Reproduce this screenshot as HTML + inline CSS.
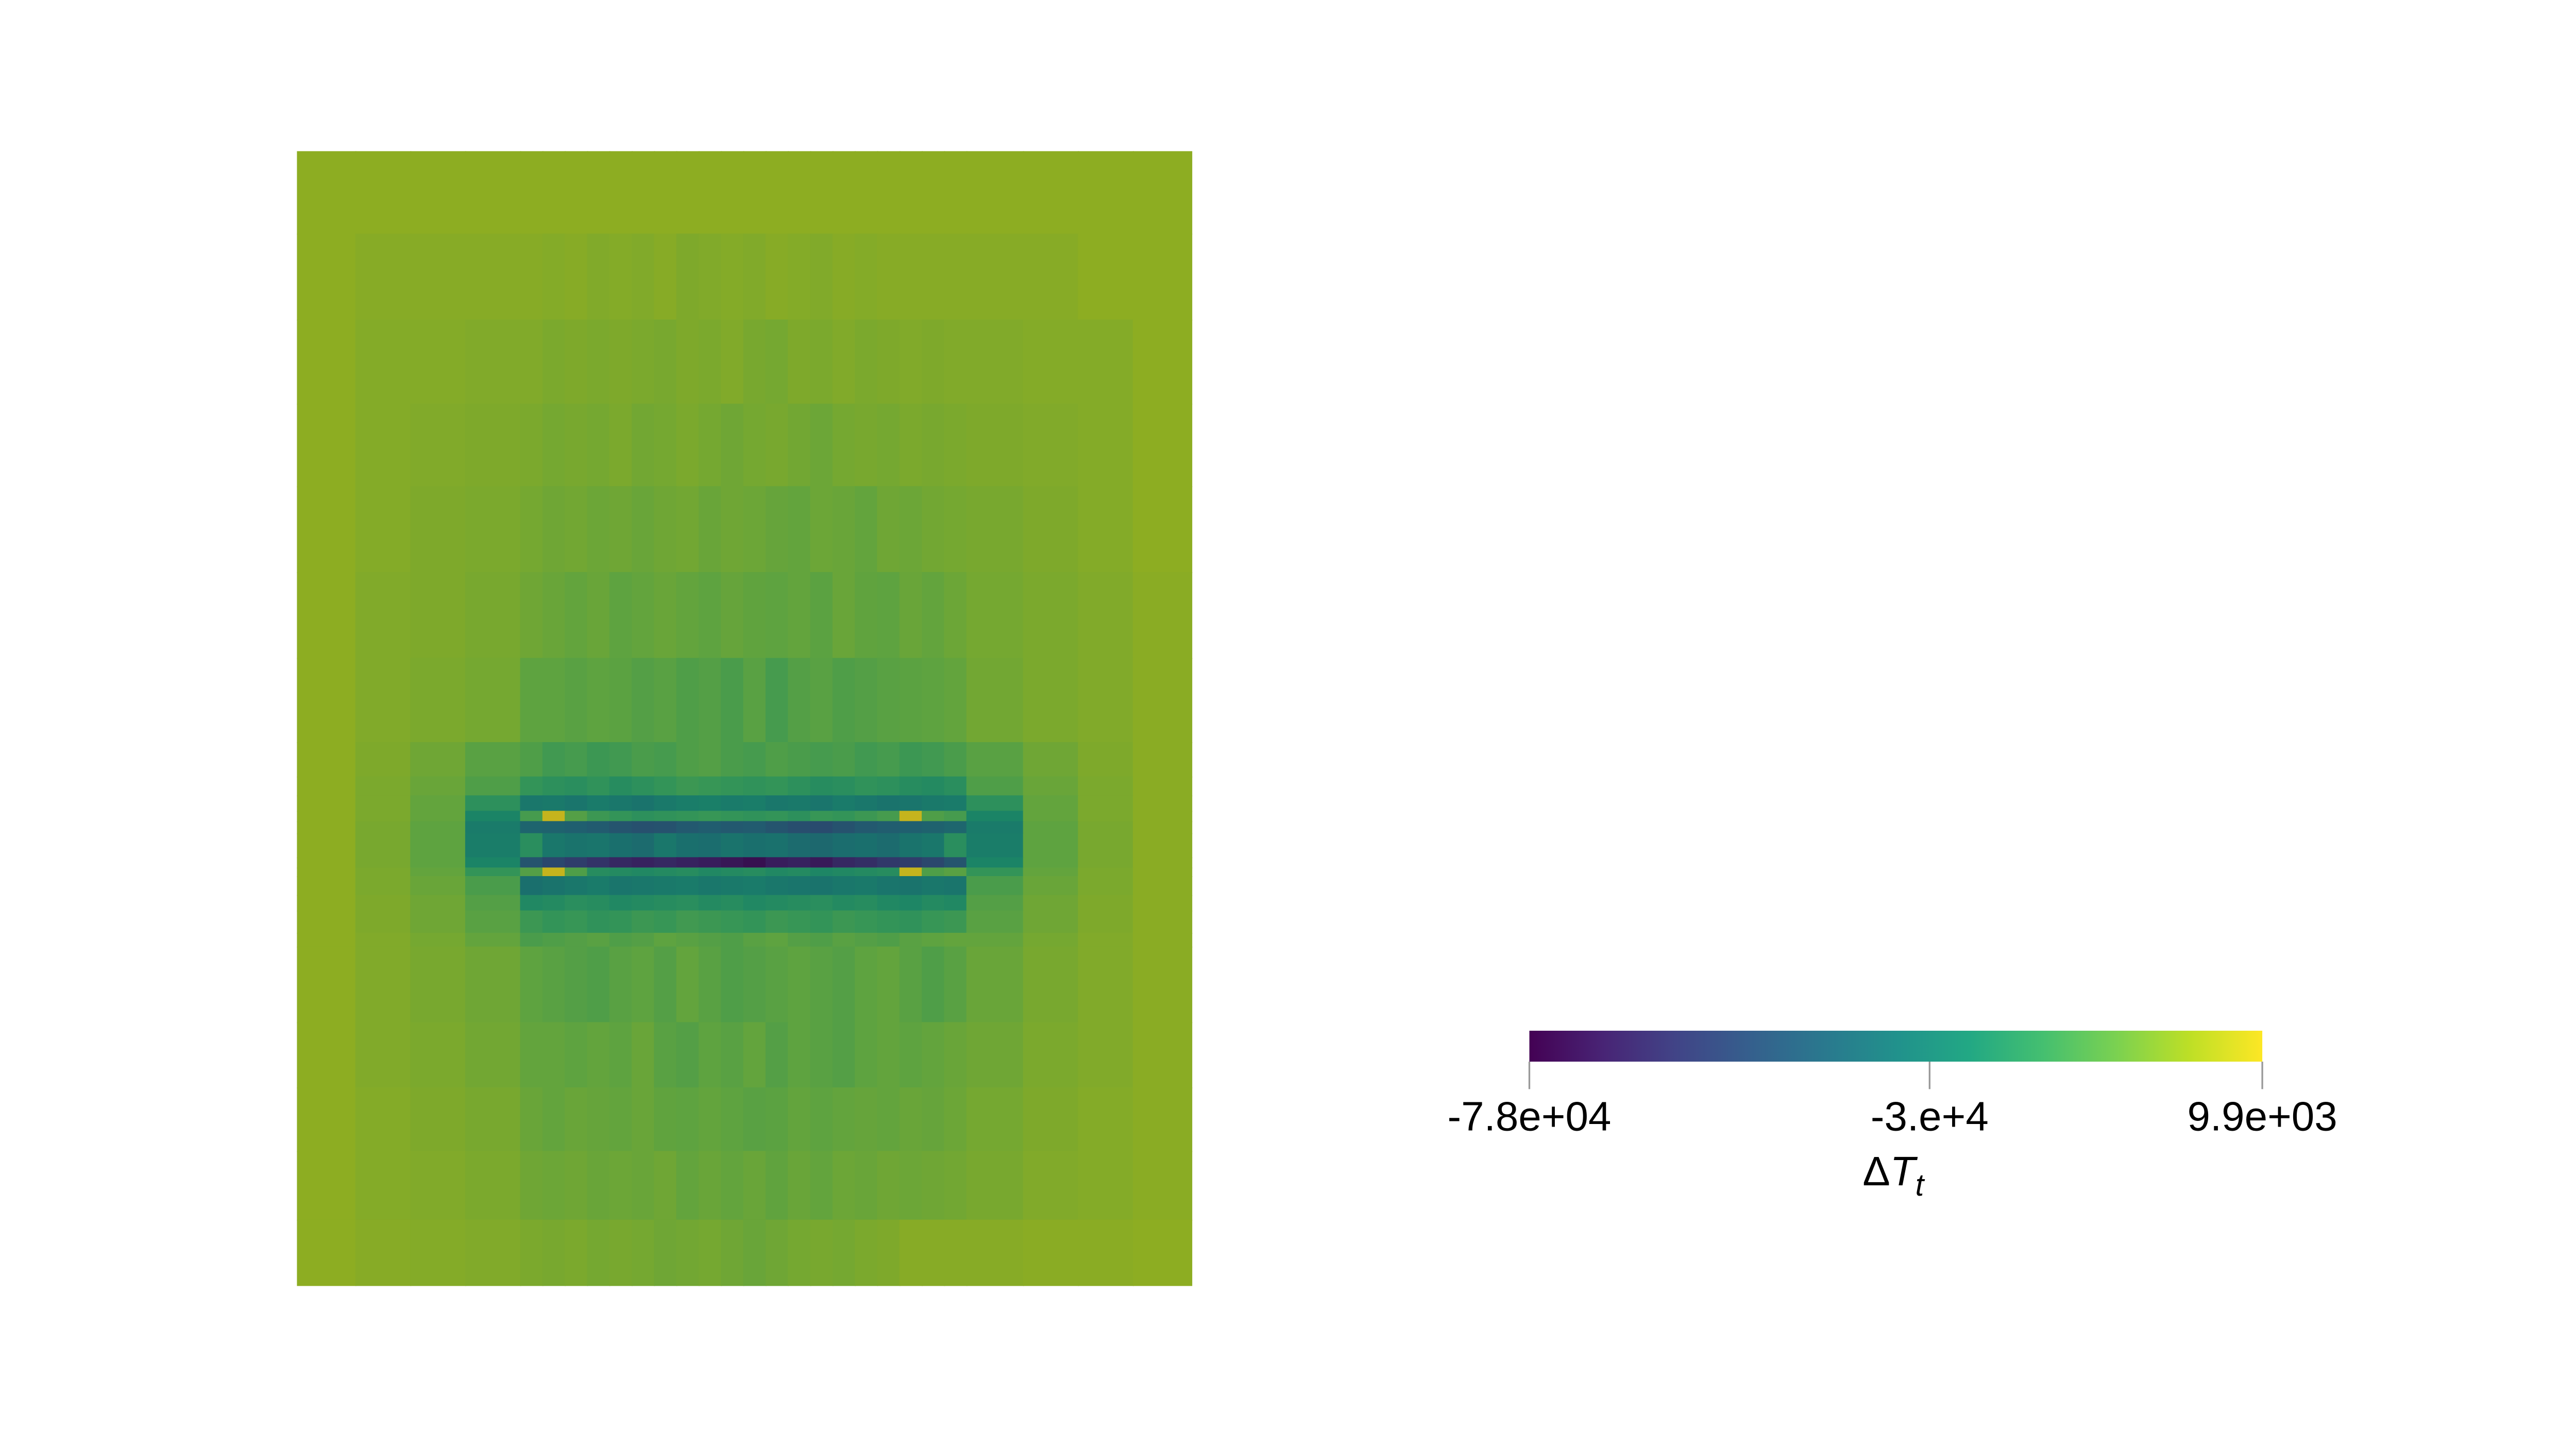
<!DOCTYPE html>
<html><head><meta charset="utf-8"><style>
html,body{margin:0;padding:0;background:#fff;}
svg{display:block;}
text{font-family:"Liberation Sans","DejaVu Sans",sans-serif;fill:#000;}
</style></head>
<body>
<svg id="chart" width="5224" height="2800" viewBox="0 0 1568 840" preserveAspectRatio="none" xmlns="http://www.w3.org/2000/svg">
<defs>
<linearGradient id="viridis" x1="0" x2="1" y1="0" y2="0">
<stop offset="0" stop-color="#440154"/><stop offset="0.1" stop-color="#482475"/><stop offset="0.2" stop-color="#414487"/><stop offset="0.3" stop-color="#355f8d"/><stop offset="0.4" stop-color="#2a788e"/><stop offset="0.5" stop-color="#21918c"/><stop offset="0.6" stop-color="#22a884"/><stop offset="0.7" stop-color="#44bf70"/><stop offset="0.8" stop-color="#7ad151"/><stop offset="0.9" stop-color="#bddf26"/><stop offset="1" stop-color="#fde725"/>
</linearGradient>
</defs>
<g id="cells"></g>
<g>
<rect x="891" y="600" width="427" height="18" fill="url(#viridis)"/>
<g id="cbticks"></g>
<text x="1103" y="690" font-size="24" text-anchor="middle">Δ<tspan font-style="italic">T</tspan><tspan font-style="italic" font-size="18" dy="6">t</tspan></text>
</g>
</svg>
<script>
// Data (ΔT in thousands)
const xEdges = [173,207,239,271,303,316,329,342,355,368,381,394,407,420,433,446,459,472,485,498,511,524,537,550,563,596,628,660,694];
const yEdges = [88,136,186,235,283,333,383,432,452,463,472,478,485,499,505,510,521,530,543,551,595,633,670,710,748];
const colorMin = -78;
const colorMax = 9.9;
const calibration = 5;
const tickValues = [-78, -30, 9.9];
const tickLabels = ["-7.8e+04", "-3.e+4", "9.9e+03"];
const row0 = [-5,-5,-5,-5,-5,-5,-5,-5,-5,-5,-5,-5,-5,-5,-5,-5,-5,-5,-5,-5,-5,-5,-5,-5,-5,-5,-5,-5];
const row1 = [-5,-6,-6,-6,-6,-6.5,-6,-7,-6.5,-7,-6,-7.5,-7,-6.5,-7,-6,-6.5,-7,-6,-6.5,-6,-6,-6,-6,-6,-6,-5,-5];
const row2 = [-5,-6.5,-6.5,-7,-7,-8,-7.5,-8,-7.5,-8,-8.5,-7.5,-8,-7,-8.5,-9,-7.5,-8,-7,-8,-7.5,-7,-7.5,-7,-7,-6.5,-6.5,-5];
const row3 = [-5,-6.5,-7,-7.5,-8,-9,-8.5,-9,-8,-9.5,-9,-8,-9,-10,-9,-8.5,-9.5,-10.5,-9,-8.5,-9,-8,-8.5,-8,-7.5,-7,-6.5,-5];
const row4 = [-5,-6.5,-7.5,-8,-9,-10,-9.5,-10.5,-10,-11,-10,-9.5,-11,-10,-10.5,-11.5,-12,-10.5,-11,-12,-10,-10.5,-9.5,-9,-8.5,-7.5,-6.5,-5];
const row5 = [-5,-7,-7.5,-8.5,-10,-11,-12,-11,-13,-12,-11,-12,-13,-11.5,-12.5,-13,-12,-13.5,-11,-12.5,-13,-11,-12,-10.5,-9,-8,-7,-5.5];
const row6 = [-5,-7,-8,-9,-13,-13,-14,-13,-13.5,-15,-14,-16,-15,-17,-14,-18,-15,-14,-16,-15,-14,-13.5,-13,-12,-9.5,-8,-7,-5.5];
const band1 = [-5,-7.5,-10,-14,-16,-19,-18,-20,-19,-17,-18,-16,-15,-17,-18,-16,-17,-18,-17,-19,-18,-20,-19,-17,-14,-10,-7.5,-5.5];
const band2 = [-5,-8,-11,-16,-22,-24,-25,-23,-26,-24,-22,-20,-21,-22,-23,-22,-24,-26,-25,-23,-24,-26,-27,-25,-16,-11,-8,-5.5];
const band3 = [-5,-8,-12,-24,-36,-35,-37,-34,-36,-38,-35,-33,-32,-34,-33,-36,-35,-37,-34,-36,-38,-37,-35,-34,-24,-12,-8,-5.5];
const band4 = [-5,-8,-12,-30,-18,5.5,-15,-20,-22,-24,-23,-22,-21,-22,-23,-22,-24,-21,-22,-20,-18,5.5,-16,-18,-30,-12,-8,-5.5];
const band5 = [-5,-8.5,-13,-34,-45,-46,-47,-49,-52,-54,-53,-50,-48,-50,-49,-52,-55,-56,-53,-50,-48,-47,-46,-44,-34,-13,-8.5,-5.5];
const band6 = [-5,-8.5,-13,-33,-25,-36,-38,-37,-40,-42,-36,-40,-41,-38,-40,-39,-42,-43,-41,-40,-42,-38,-36,-25,-33,-13,-8.5,-5.5];
const band7 = [-5,-8.5,-13,-30,-52,-58,-62,-66,-70,-72,-70,-72,-74,-76,-78,-74,-72,-75,-70,-68,-64,-62,-58,-52,-30,-13,-8.5,-5.5];
const band8 = [-5,-8,-12,-22,-15,5.5,-16,-26,-27,-28,-27,-26,-28,-27,-26,-28,-27,-29,-28,-27,-26,5.5,-16,-14,-22,-12,-8,-5.5];
const band9 = [-5,-8,-11,-17,-40,-38,-36,-34,-37,-36,-35,-34,-36,-35,-34,-36,-37,-38,-36,-35,-37,-38,-36,-37,-17,-11,-8,-5.5];
const band10 = [-5,-7.5,-10,-15,-28,-27,-25,-26,-28,-27,-26,-25,-27,-26,-28,-27,-26,-25,-27,-26,-28,-29,-27,-28,-15,-10,-7.5,-5.5];
const band11 = [-5,-7.5,-10,-14,-20,-22,-21,-23,-22,-20,-21,-19,-20,-21,-22,-20,-21,-22,-20,-21,-22,-23,-21,-20,-14,-10,-7.5,-5.5];
const band12 = [-5,-7,-9,-12,-17,-16,-15,-14,-16,-15,-13,-14,-15,-16,-14,-13,-15,-16,-14,-15,-16,-14,-13,-12,-12,-9,-7,-5.5];
const low1 = [-5,-7,-8.5,-10,-13,-14,-15,-16,-14,-13,-15,-12,-14,-16,-15,-14,-13,-14,-15,-13,-12,-14,-16,-14,-11,-8.5,-7,-5.5];
const low2 = [-5,-7,-8,-9.5,-12,-12,-13,-12,-13,-11,-14,-15,-13,-14,-12,-15,-13,-14,-15,-13,-12,-13,-12,-11,-10,-8,-7,-5.5];
const low3 = [-5,-6.5,-7.5,-8.5,-11,-12,-11,-11.5,-12,-11,-12.5,-13,-12,-13,-14,-13.5,-12,-13,-12,-11.5,-12,-11,-11.5,-10.5,-9,-7.5,-6.5,-5.5];
const low4 = [-5,-6.5,-7,-8,-10,-10.5,-10,-11,-10.5,-11,-10,-12,-11,-12,-11,-12.5,-11,-12,-10.5,-11,-10,-10.5,-10,-9.5,-8.5,-7,-6.5,-5.5];
const low5 = [-5,-6,-6.5,-7,-8,-8.5,-8,-9,-8.5,-9,-10,-9.5,-9,-10,-11,-10,-9,-8.5,-9,-8,-7.5,-6,-6,-6,-6,-5.5,-5.5,-5];
const rows = [row0,row1,row2,row3,row4,row5,row6,band1,band2,band3,band4,band5,band6,band7,band8,band9,band10,band11,band12,low1,low2,low3,low4,low5];

const stops = [[68,1,84],[72,36,117],[65,68,135],[53,95,141],[42,120,142],[33,145,140],[34,168,132],[68,191,112],[122,209,81],[189,223,38],[253,231,37]];
function viridis(t){
  t=Math.max(0,Math.min(1,t));
  const p=t*10, i=Math.min(9,Math.floor(p)), f=p-i;
  const a=stops[i], b=stops[i+1];
  return [0,1,2].map(k=>a[k]+(b[k]-a[k])*f);
}
function colorOf(v){
  const t=(v+calibration-colorMin)/(colorMax-colorMin);
  const c=viridis(t).map(x=>Math.round(x*0.78));
  return `rgb(${c[0]},${c[1]},${c[2]})`;
}
function xScale(i){return xEdges[i];}
function yScale(j){return yEdges[j];}
function cbX(v){return 891+(v-colorMin)/(colorMax-colorMin)*427;}

const NS="http://www.w3.org/2000/svg";
const g=document.getElementById('cells');
rows.forEach((row,j)=>{
  row.forEach((v,i)=>{
    const r=document.createElementNS(NS,'rect');
    r.setAttribute('x',xScale(i));
    r.setAttribute('y',yScale(j));
    r.setAttribute('width',xScale(i+1)-xScale(i)+0.6);
    r.setAttribute('height',yScale(j+1)-yScale(j)+0.6);
    r.setAttribute('fill',colorOf(v));
    
    
    g.appendChild(r);
  });
});
const tg=document.getElementById('cbticks');
tickValues.forEach((v,k)=>{
  const x=cbX(v);
  const l=document.createElementNS(NS,'line');
  l.setAttribute('x1',x);l.setAttribute('x2',x);l.setAttribute('y1',618);l.setAttribute('y2',634);
  l.setAttribute('stroke','#999');l.setAttribute('stroke-width','1');
  
  
  tg.appendChild(l);
  const t=document.createElementNS(NS,'text');
  t.setAttribute('x',x);t.setAttribute('y',658);t.setAttribute('font-size','24');t.setAttribute('text-anchor','middle');
  t.textContent=tickLabels[k];
  
  
  tg.appendChild(t);
});
</script>
</body></html>
